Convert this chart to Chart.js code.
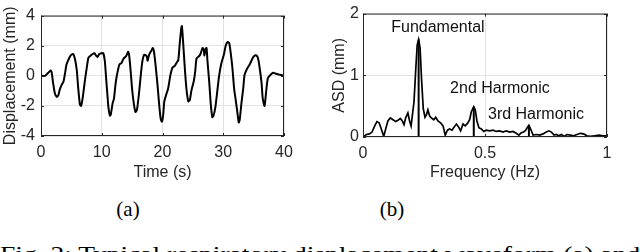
<!DOCTYPE html>
<html>
<head>
<meta charset="utf-8">
<script src="https://cdn.jsdelivr.net/npm/chart.js@4.4.0/dist/chart.umd.min.js"></script>
<style>
  html, body { margin: 0; padding: 0; background: #fff; }
  #wrap { position: relative; width: 640px; height: 252px; overflow: hidden; }
  canvas { position: absolute; top: 0; }
  #cA { left: 0; }
  #cB { left: 320px; }
  .sub { position: absolute; top: 197px; font: 21px "Liberation Serif", serif; line-height: 24px; transform: translateX(-50%); color: #000; }
  #fig { position: absolute; left: 0; top: 242px; font: 21px "Liberation Serif", serif; line-height: 24px; white-space: nowrap; transform-origin: 0 0; color: #000; }
</style>
</head>
<body>
<div id="wrap">
  <canvas id="cA" width="320" height="190"></canvas>
  <canvas id="cB" width="320" height="190"></canvas>
  <div class="sub" style="left:128px">(a)</div>
  <div class="sub" style="left:392px">(b)</div>
  <div id="fig">Fig. 2: Typical respiratory displacement waveform (a) and</div>
</div>
<script>
// (a) displacement waveform
const tiempo = [0, 0.66, 1.2, 1.6, 1.75, 2.0, 2.3, 2.6, 2.85, 3.1, 3.4, 3.7, 3.95, 4.2, 4.5, 4.8, 5.0, 5.3, 5.6, 5.9,
  6.1, 6.4, 6.6, 6.85, 7.2, 7.5, 7.8, 8.05, 8.5, 8.8, 9.05, 9.3, 9.6, 9.95, 10.25, 10.5, 10.7, 10.9, 11.1, 11.35,
  11.5, 11.8, 12.0, 12.3, 12.55, 12.9, 13.25, 13.6, 14.0, 14.35, 14.5, 14.75, 15.0, 15.3, 15.55, 15.8, 16.15, 16.45, 16.7, 17.0,
  17.4, 17.55, 17.8, 18.2, 18.4, 18.6, 18.9, 19.2, 19.45, 19.7, 19.9, 20.1, 20.3, 20.65, 20.9, 21.1, 21.3, 21.65, 22.0, 22.3,
  22.6, 22.85, 23.1, 23.2, 23.4, 23.7, 23.95, 24.25, 24.5, 24.75, 25.15, 25.4, 25.6, 26.0, 26.25, 26.6, 26.8, 26.9, 27.1, 27.25,
  27.4, 27.7, 27.95, 28.2, 28.4, 28.7, 29.0, 29.3, 29.7, 30.1, 30.4, 30.75, 31.0, 31.2, 31.5, 31.8, 32.05, 32.3, 32.55, 32.7,
  33.0, 33.3, 33.5, 33.9, 34.35, 34.75, 35.05, 35.45, 35.7, 35.95, 36.3, 36.5, 36.8, 37.1, 37.35, 37.75, 38.2, 38.6, 39.0, 39.55, 40];
const desplazamiento = [0, 0, 0.2, 0.35, 0.25, -0.5, -1.2, -1.4, -1.3, -0.9, -0.6, -0.4, 0.15, 0.75, 1.05, 1.3, 1.4, 1.45, 1.1, 0.35,
  -0.7, -1.9, -2.0, -1.5, -0.4, 0.45, 1.2, 1.3, 1.45, 1.5, 1.35, 1.25, 1.45, 1.5, 1.5, 1.0, -0.05, -1.1, -2.1, -2.65,
  -2.55, -1.8, -1.55, -0.45, 0.15, 0.75, 0.85, 1.15, 1.3, 1.6, 1.4, 0.35, -0.9, -1.9, -2.4, -2.25, -1.1, 0.15, 1.0, 1.4,
  1.3, 1.0, 1.4, 1.7, 1.85, 1.6, 0.55, -0.7, -1.9, -2.85, -3.05, -2.65, -1.7, -1.2, -0.9, -0.45, 0.05, 0.55, 0.65, 0.85,
  1.05, 2.2, 3.2, 3.3, 2.2, 0.35, -0.9, -1.7, -1.6, -1.0, -0.35, 0.35, 1.15, 1.3, 1.45, 1.85, 1.7, 1.35, 1.8, 1.85,
  1.0, -0.45, -1.9, -2.75, -2.65, -2.1, -1.1, -0.05, 0.85, 1.4, 2.0, 2.25, 2.15, 1.6, 0.55, -0.9, -1.6, -2.35, -3.1, -2.95,
  -1.8, -0.8, 0.05, 0.45, 0.75, 1.1, 1.3, 1.35, 1.2, 0.65, -0.45, -1.5, -2.0, -0.9, -0.15, 0.05, 0.2, 0.15, 0.1, 0.05, 0];

// (b) amplitude spectral density
const frecuencia = [0, 0.014, 0.027, 0.037, 0.048, 0.057, 0.066, 0.075, 0.085, 0.093, 0.102, 0.112, 0.123, 0.134, 0.143, 0.153,
  0.161, 0.168, 0.175, 0.184, 0.191, 0.197, 0.202, 0.209, 0.216, 0.222, 0.228, 0.234, 0.240, 0.247, 0.254, 0.26, 0.266, 0.273,
  0.280, 0.290, 0.298, 0.307, 0.318, 0.328, 0.337, 0.346, 0.355, 0.365, 0.373, 0.383, 0.392, 0.400, 0.410, 0.419, 0.428, 0.437,
  0.444, 0.454, 0.460, 0.467, 0.475, 0.485, 0.495, 0.505, 0.519, 0.533, 0.546, 0.560, 0.574, 0.587, 0.601, 0.615, 0.628, 0.639,
  0.649, 0.658, 0.667, 0.673, 0.680, 0.687, 0.697, 0.71, 0.724, 0.738, 0.751, 0.762, 0.772, 0.783, 0.792, 0.802, 0.813, 0.824,
  0.836, 0.85, 0.863, 0.877, 0.891, 0.904, 0.918, 0.932, 0.949, 0.967, 0.984, 1.0];
const asd = [0, 0.04, 0.05, 0.08, 0.18, 0.25, 0.23, 0.13, 0.01, 0.13, 0.26, 0.31, 0.28, 0.25, 0.27, 0.30,
  0.26, 0.2, 0.31, 0.39, 0.26, 0.18, 0.34, 0.57, 1.08, 1.49, 1.58, 1.44, 0.93, 0.46, 0.32, 0.36, 0.44, 0.34,
  0.31, 0.28, 0.32, 0.26, 0.23, 0.18, 0.03, 0.11, 0.13, 0.11, 0.16, 0.21, 0.16, 0.10, 0.21, 0.18, 0.22, 0.28,
  0.41, 0.49, 0.44, 0.26, 0.15, 0.13, 0.09, 0.11, 0.10, 0.11, 0.09, 0.10, 0.08, 0.10, 0.08, 0.09, 0.06, 0.03,
  0.07, 0.08, 0.11, 0.15, 0.19, 0.13, 0.03, 0.04, 0.03, 0.05, 0.08, 0.10, 0.08, 0.03, 0.04, 0.02, 0.04, 0.01,
  0.04, 0.03, 0.02, 0.04, 0.06, 0.05, 0.02, 0.01, 0.02, 0.03, 0.02, 0.02];

// harmonic stems
const armonicoF = [0.228, 0.454, 0.680];
const armonicoA = [1.58, 0.49, 0.19];

// annotations (text, x, y in data units)
const notasTexto = ["Fundamental", "2nd Harmonic", "3rd Harmonic"];
const notasX = [0.307, 0.561, 0.709];
const notasY = [1.77, 0.785, 0.37];

const TXT = "#262626";
const FONT = { family: "'Liberation Sans', Arial, sans-serif", size: 16 };

const cajaPlugin = {
  id: "caja",
  afterDraw(chart) {
    const { ctx, chartArea: a, scales } = chart;
    ctx.save();
    ctx.strokeStyle = "#262626";
    ctx.lineWidth = 1;
    ctx.strokeRect(a.left + 0.5, a.top + 0.5, a.width - 1, a.height - 1);
    ctx.beginPath();
    scales.x.ticks.forEach(t => {
      const px = Math.round(scales.x.getPixelForValue(t.value)) + 0.5;
      ctx.moveTo(px, a.bottom); ctx.lineTo(px, a.bottom - 3);
      ctx.moveTo(px, a.top); ctx.lineTo(px, a.top + 3);
    });
    scales.y.ticks.forEach(t => {
      const py = Math.round(scales.y.getPixelForValue(t.value)) + 0.5;
      ctx.moveTo(a.left, py); ctx.lineTo(a.left + 3, py);
      ctx.moveTo(a.right, py); ctx.lineTo(a.right - 3, py);
    });
    ctx.stroke();
    ctx.restore();
  }
};

const notasPlugin = {
  id: "notas",
  afterDatasetsDraw(chart) {
    const { ctx, scales } = chart;
    ctx.save();
    ctx.font = "16px 'Liberation Sans', Arial, sans-serif";
    ctx.fillStyle = "#111";
    ctx.textAlign = "center";
    ctx.textBaseline = "middle";
    notasTexto.forEach((s, i) => {
      ctx.fillText(s, scales.x.getPixelForValue(notasX[i]), scales.y.getPixelForValue(notasY[i]));
    });
    ctx.restore();
  }
};

function ejes(xmin, xmax, xpaso, ymin, ymax, ypaso, xtitulo, ytitulo, yancho, xalto, ypad, ytitlePad) {
  return {
    x: {
      type: "linear", min: xmin, max: xmax,
      ticks: { stepSize: xpaso, color: TXT, font: FONT, padding: 7, maxRotation: 0,
        callback: v => String(+v.toFixed(2)) },
      grid: { color: "#e3e3e3", drawTicks: false },
      border: { display: false },
      title: { display: true, text: xtitulo, color: TXT, font: FONT, padding: { top: 0, bottom: 8 } },
      afterFit(s) { s.height = xalto; }
    },
    y: {
      min: ymin, max: ymax,
      ticks: { stepSize: ypaso, color: TXT, font: FONT, padding: ypad,
        callback: v => String(+v.toFixed(2)) },
      grid: { color: "#e3e3e3", drawTicks: false },
      border: { display: false },
      title: { display: true, text: ytitulo, color: TXT, font: FONT, padding: { top: ytitlePad, bottom: 0 } },
      afterFit(s) { s.width = yancho; }
    }
  };
}

new Chart(document.getElementById("cA"), {
  type: "line",
  data: {
    datasets: [{
      data: tiempo.map((t, i) => ({ x: t, y: desplazamiento[i] })),
      borderColor: "#000", borderWidth: 2, pointRadius: 0, tension: 0.2, fill: false
    }]
  },
  options: {
    responsive: false, animation: false,
    layout: { padding: { left: 0, right: 36, top: 7, bottom: 0 } },
    plugins: { legend: { display: false }, tooltip: { enabled: false } },
    scales: ejes(0, 40, 10, -4, 4, 2, "Time (s)", "Displacement (mm)", 41, 54, 6, 1)
  },
  plugins: [cajaPlugin]
});

const tallos = [];
armonicoF.forEach((f, i) => {
  tallos.push({ x: f, y: 0 }, { x: f, y: armonicoA[i] }, { x: f, y: null });
});

new Chart(document.getElementById("cB"), {
  type: "line",
  data: {
    datasets: [{
      data: frecuencia.map((f, i) => ({ x: f, y: asd[i] })),
      borderColor: "#000", borderWidth: 1.7, pointRadius: 0, tension: 0, fill: false
    }, {
      data: tallos,
      borderColor: "#000", borderWidth: 2, pointRadius: 0, spanGaps: false, fill: false
    }]
  },
  options: {
    responsive: false, animation: false,
    layout: { padding: { left: 0, right: 33, top: 7, bottom: 0 } },
    plugins: { legend: { display: false }, tooltip: { enabled: false } },
    scales: ejes(0, 1, 0.5, 0, 2, 1, "Frequency (Hz)", "ASD (mm)", 43, 53, 4, 10)
  },
  plugins: [cajaPlugin, notasPlugin]
});

// stretch caption line to the page width
const fig = document.getElementById("fig");
fig.style.transform = "scaleX(" + (640 / fig.scrollWidth) + ")";
</script>
</body>
</html>
